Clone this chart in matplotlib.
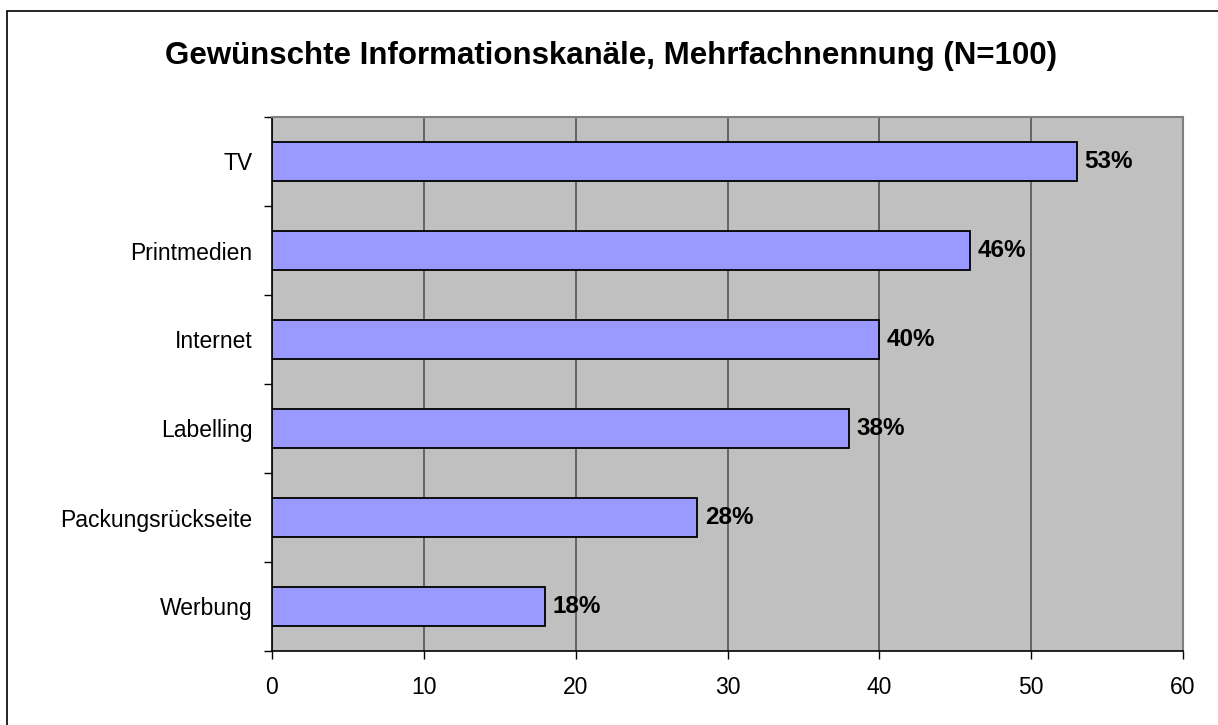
import matplotlib
matplotlib.use("Agg")
import matplotlib.pyplot as plt
from matplotlib.patches import Rectangle

categories = ["TV", "Printmedien", "Internet", "Labelling", "Packungsrückseite", "Werbung"]
values = [53, 46, 40, 38, 28, 18]
xticks = [0, 10, 20, 30, 40, 50, 60]
title = "Gewünschte Informationskanäle, Mehrfachnennung (N=100)"

plt.rcParams['font.family'] = ['Liberation Sans', 'DejaVu Sans']

fig = plt.figure(figsize=(12.18, 7.25), dpi=100)
fig.patch.set_facecolor('white')
# outer frame (cropped at right/bottom)
fig.add_artist(Rectangle((7/1218, -0.05), 1.2, 1 - 11/725 + 0.05, transform=fig.transFigure,
                         fill=False, edgecolor='black', linewidth=1.2))

ax = fig.add_axes([272/1218, 1 - 651/725, (1183-272)/1218, (651-117)/725])
ax.set_facecolor('#C0C0C0')

n = len(categories)
ypos = [n - 1 - i for i in range(n)]
ax.barh(ypos, values, height=0.43, color='#9999FF', edgecolor='black', linewidth=1.3, zorder=3)

for y, v in zip(ypos, values):
    ax.text(v + 0.5, y, f"{v}%", va='center', ha='left', fontsize=17.5, fontweight='bold', zorder=4)

ax.set_xlim(0, 60)
ax.set_ylim(-0.5, n - 0.5)
ax.set_xticks(xticks)
ax.set_xticklabels([str(t) for t in xticks], fontsize=16.5)
ax.xaxis.grid(True, color='#555555', linewidth=1.2, zorder=1)
ax.set_axisbelow(True)

ax.set_yticks(ypos)
ax.set_yticklabels(categories, fontsize=16.5)
ax.set_yticks([i - 0.5 for i in range(n + 1)], minor=True)
ax.tick_params(axis='y', which='major', length=0, pad=14)
ax.tick_params(axis='y', which='minor', length=6, width=1, direction='out')
ax.tick_params(axis='x', which='major', length=6, width=1, direction='out', pad=12)

for s in ['left', 'bottom']:
    ax.spines[s].set_color('black')
    ax.spines[s].set_linewidth(1.2)
for s in ['top', 'right']:
    ax.spines[s].set_color('#808080')
    ax.spines[s].set_linewidth(1.5)

fig.text(611/1218, 1 - 56/725, title, ha='center', va='center', fontsize=22.5, fontweight='bold')

fig.savefig('out.png', dpi=100)
